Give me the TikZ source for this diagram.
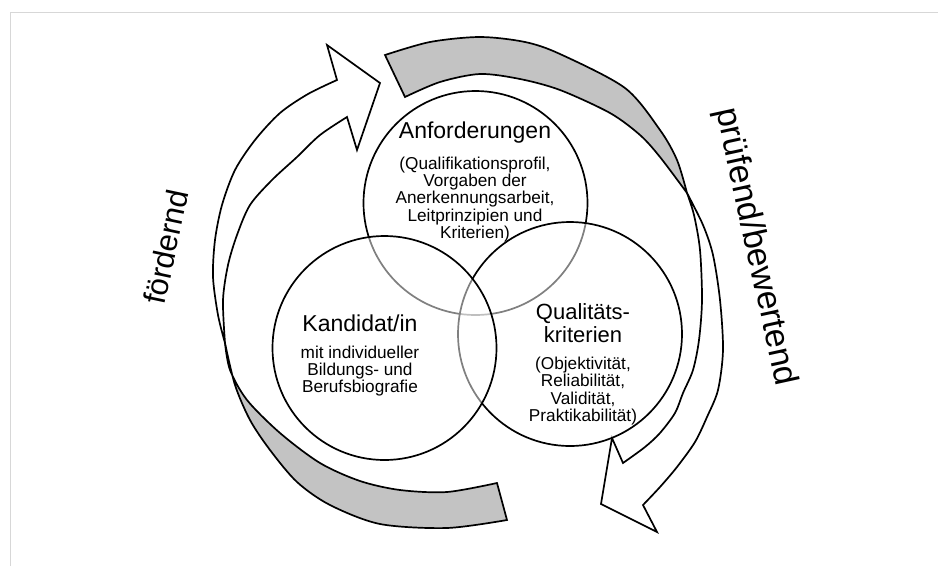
\documentclass[tikz,border=0pt]{standalone}
\usepackage{fontspec}
\setmainfont{Liberation Sans}
\definecolor{bandgray}{RGB}{195,195,195}
\definecolor{framegray}{RGB}{215,215,215}
\begin{document}
\begin{tikzpicture}[x=1pt,y=-1pt,
  band/.style={draw=black,line width=1.7pt,line join=miter},
  ring/.style={circle,draw=black,line width=1.7pt,minimum size=224pt,inner sep=0pt},
  veil/.style={fill=white,fill opacity=0.5},
  ttl/.style={inner sep=0pt,align=center,font=\fontsize{23}{23}\selectfont},
  sub/.style={inner sep=0pt,align=center,font=\fontsize{17.2}{17.3}\selectfont},
  lbl/.style={inner sep=0pt,font=\fontsize{33}{33}\selectfont}]
\useasboundingbox (0,0) rectangle (938,566);
\draw[framegray,line width=1pt] (10,566) -- (10,12) -- (938,12);
% right arrow: grey back part
\filldraw[band,fill=bandgray] (385,55) -- (405,97)
  plot[smooth] coordinates {(405,97) (440,82) (480,74) (520,79) (560,90) (610,113) (640,135) (660,157) (687,193)}
  -- plot[smooth] coordinates {(687,193) (677,160) (660,130) (625,88) (560,54) (525,42) (480,37) (430,42) (385,55)} -- cycle;
% right arrow: white front part
\filldraw[band,fill=white]
  plot[smooth] coordinates {(687,193) (703,225) (713,255) (720,300) (723,350) (718,390) (707,417) (695,442) (677,467) (660,487) (643,505)}
  -- (657,532) -- (601,504) -- (612,438) -- (623,463)
  -- plot[smooth] coordinates {(623,463) (645,447) (660,433) (675,413) (683,393) (693,370) (699,340) (702,300) (700,250) (694,215) (687,193)} -- cycle;
% left arrow: grey back part
\filldraw[band,fill=bandgray] (507,520) -- (497,483)
  plot[smooth] coordinates {(497,483) (447,492) (400,490) (360,481) (320,463) (280,433) (247,400) (230,370) (225,343)}
  -- plot[smooth] coordinates {(225,343) (235,385) (250,420) (270,450) (297,482) (330,505) (380,524) (447,528) (507,520)} -- cycle;
% left arrow: white front part
\filldraw[band,fill=white]
  plot[smooth] coordinates {(225,343) (218,315) (213,277) (215,240) (222,205) (235,170) (255,140) (280,113) (308,94) (337,80)}
  -- (327,45) -- (380,83) -- (357,150) -- (347,117)
  -- plot[smooth] coordinates {(347,117) (320,135) (297,157) (272,180) (250,205) (237,235) (228,265) (223,300) (225,343)} -- cycle;
% circles
\node[ring,fill=white] (anf) at (475.5,203) {};
\node[ring,veil] (qual) at (570,334) {};
\node[ring,veil] (kand) at (384.5,348) {};
% texts
\node[ttl] (anft) at (475,133) {Anforderungen};
\node[sub] (anfs) at (475,199.5) {(Qualifikationsprofil,\\Vorgaben der\\Anerkennungsarbeit,\\Leitprinzipien und\\Kriterien)};
\node[ttl] (kandt) at (360,323) {Kandidat/in};
\node[sub] (kands) at (360,371) {mit individueller\\Bildungs- und\\Berufsbiografie};
\node[ttl,font=\fontsize{22}{23}\selectfont] (qualt) at (583,323.5) {Qualitäts-\\kriterien};
\node[sub] (quals) at (583,391) {(Objektivität,\\Reliabilität,\\Validität,\\Praktikabilität)};
\node[lbl,rotate=78,font=\fontsize{31}{31}\selectfont] (foerd) at (166,247) {fördernd};
\node[lbl,rotate=-77.7,font=\fontsize{34}{34}\selectfont] (pruef) at (755,247) {prüfend/bewertend};
\end{tikzpicture}
\end{document}
